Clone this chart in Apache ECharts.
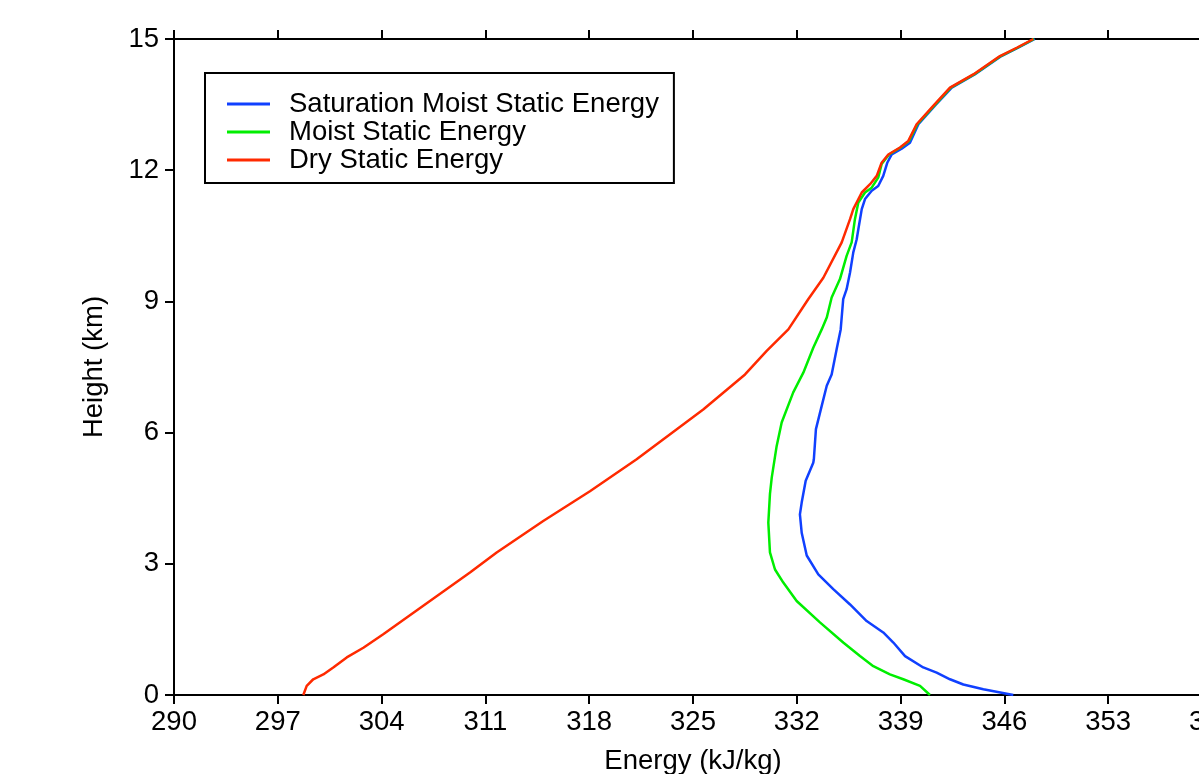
<!DOCTYPE html>
<html>
<head>
<meta charset="utf-8">
<script src="https://cdn.jsdelivr.net/npm/echarts@6/dist/echarts.min.js"></script>
<style>
html,body{margin:0;padding:0;background:#fff;}
#chart{width:1199px;height:774px;}
</style>
</head>
<body>
<div id="chart"></div>
<script>
// Tick labels
var xTicks = [290, 297, 304, 311, 318, 325, 332, 339, 346, 353, 360];
var yTicks = [0, 3, 6, 9, 12, 15];

// Series names
var seriesNames = ['Saturation Moist Static Energy', 'Moist Static Energy', 'Dry Static Energy'];

// Saturation Moist Static Energy (kJ/kg) vs height (km)
var smseEnergy = [346.60, 344.58, 343.23, 342.33, 341.43, 340.53, 339.30, 338.51, 337.83, 336.71, 335.59, 334.46, 333.45, 332.67, 332.33, 332.21, 332.33, 332.60, 333.11, 333.15, 333.29, 333.68, 334.02, 334.35, 334.69, 334.96, 335.13, 335.36, 335.59, 335.81, 336.04, 336.15, 336.38, 336.60, 337.05, 337.49, 337.83, 338.10, 338.40, 339.07, 339.63, 340.20, 341.30, 342.45, 344.00, 345.80, 346.93, 348.05];
var smseHeight = [0.00, 0.13, 0.24, 0.36, 0.51, 0.63, 0.89, 1.20, 1.43, 1.69, 2.07, 2.42, 2.76, 3.19, 3.71, 4.13, 4.40, 4.90, 5.31, 5.39, 6.08, 6.61, 7.07, 7.33, 7.91, 8.36, 9.05, 9.28, 9.66, 10.12, 10.42, 10.65, 11.11, 11.34, 11.53, 11.64, 11.87, 12.17, 12.36, 12.49, 12.63, 13.05, 13.47, 13.89, 14.19, 14.61, 14.80, 15.00];

// Moist Static Energy
var mseEnergy = [340.98, 340.31, 339.18, 338.28, 337.16, 336.26, 335.13, 333.56, 331.99, 331.09, 330.53, 330.19, 330.08, 330.19, 330.31, 330.64, 330.98, 331.76, 332.44, 333.11, 333.68, 334.02, 334.35, 334.91, 335.36, 335.70, 335.92, 336.15, 336.60, 337.05, 337.49, 337.72, 338.22, 339.00, 339.57, 340.13, 341.25, 342.38, 343.95, 345.75, 346.88, 348.00];
var mseHeight = [0.00, 0.21, 0.36, 0.47, 0.66, 0.89, 1.20, 1.66, 2.15, 2.57, 2.87, 3.26, 3.94, 4.60, 4.97, 5.69, 6.23, 6.92, 7.37, 7.94, 8.36, 8.63, 9.09, 9.51, 10.04, 10.35, 10.88, 11.26, 11.49, 11.60, 11.83, 12.14, 12.36, 12.52, 12.67, 13.05, 13.47, 13.89, 14.19, 14.61, 14.80, 15.00];

// Dry Static Energy
var dseEnergy = [298.72, 298.95, 299.39, 300.07, 300.74, 301.65, 302.77, 304.11, 306.81, 309.96, 311.76, 314.90, 318.05, 321.20, 325.69, 328.51, 329.97, 331.43, 332.77, 333.79, 335.03, 335.59, 335.81, 336.38, 336.94, 337.39, 337.72, 338.17, 338.96, 339.52, 340.08, 341.20, 342.33, 343.90, 345.70, 346.83, 347.95];
var dseHeight = [0.00, 0.21, 0.36, 0.47, 0.63, 0.86, 1.08, 1.39, 2.04, 2.80, 3.26, 3.98, 4.66, 5.39, 6.53, 7.33, 7.87, 8.36, 9.05, 9.54, 10.35, 10.88, 11.11, 11.49, 11.68, 11.87, 12.17, 12.36, 12.52, 12.67, 13.05, 13.47, 13.89, 14.19, 14.61, 14.80, 15.00];

function pairs(e, h) {
  var out = [];
  for (var i = 0; i < e.length; i++) out.push([e[i], h[i]]);
  return out;
}

var FONT = '"Liberation Sans", Arial, Helvetica, sans-serif';
var FS = 27.5;
var colors = ['#1040ff', '#00ee00', '#ff2a00'];

var chart = echarts.init(document.getElementById('chart'), null, {renderer: 'canvas'});

var axisLineStyle = {color: '#000', width: 2};

chart.setOption({
  animation: false,
  backgroundColor: '#fff',
  grid: {left: 174, top: 39, width: 1038, height: 656, containLabel: false, outerBoundsMode: 'none'},
  legend: {
    orient: 'vertical',
    left: 205,
    top: 73,
    padding: [17, 15, 9, 22],
    borderColor: '#000',
    borderWidth: 2,
    borderRadius: 0,
    itemWidth: 43,
    itemHeight: 3,
    itemGap: 0,
    icon: 'rect',
    textStyle: {fontFamily: FONT, fontSize: FS, color: '#000', lineHeight: 28, padding: [0, 0, 0, 14]},
    data: seriesNames
  },
  xAxis: [{
    type: 'value',
    min: xTicks[0],
    max: xTicks[xTicks.length - 1],
    position: 'bottom',
    name: 'Energy (kJ/kg)',
    nameLocation: 'middle',
    nameGap: 52,
    nameTextStyle: {fontFamily: FONT, fontSize: FS, color: '#000'},
    axisLine: {show: true, onZero: false, lineStyle: axisLineStyle},
    axisTick: {show: true, inside: false, length: 9, lineStyle: axisLineStyle, customValues: xTicks},
    axisLabel: {show: true, margin: 13, fontFamily: FONT, fontSize: FS, color: '#000', customValues: xTicks, hideOverlap: false, showMinLabel: true, showMaxLabel: true},
    splitLine: {show: false}
  }, {
    type: 'value',
    min: xTicks[0],
    max: xTicks[xTicks.length - 1],
    position: 'top',
    axisLine: {show: true, onZero: false, lineStyle: axisLineStyle},
    axisTick: {show: true, inside: false, length: 9, lineStyle: axisLineStyle, customValues: xTicks},
    axisLabel: {show: false},
    splitLine: {show: false}
  }],
  yAxis: [{
    type: 'value',
    min: 0,
    max: 15,
    interval: 3,
    position: 'left',
    name: 'Height (km)',
    nameLocation: 'middle',
    nameGap: 66,
    nameRotate: 90,
    nameTextStyle: {fontFamily: FONT, fontSize: FS, color: '#000'},
    axisLine: {show: true, onZero: false, lineStyle: axisLineStyle},
    axisTick: {show: true, inside: false, length: 9, lineStyle: axisLineStyle},
    axisLabel: {show: true, margin: 15, fontFamily: FONT, fontSize: FS, color: '#000', showMinLabel: true, showMaxLabel: true},
    splitLine: {show: false}
  }],
  series: [{
    name: seriesNames[0],
    type: 'line',
    data: pairs(smseEnergy, smseHeight),
    showSymbol: false,
    symbol: 'none',
    lineStyle: {color: colors[0], width: 2.5},
    itemStyle: {color: colors[0]},
    z: 2
  }, {
    name: seriesNames[1],
    type: 'line',
    data: pairs(mseEnergy, mseHeight),
    showSymbol: false,
    symbol: 'none',
    lineStyle: {color: colors[1], width: 2.5},
    itemStyle: {color: colors[1]},
    z: 3
  }, {
    name: seriesNames[2],
    type: 'line',
    data: pairs(dseEnergy, dseHeight),
    showSymbol: false,
    symbol: 'none',
    lineStyle: {color: colors[2], width: 2.5},
    itemStyle: {color: colors[2]},
    z: 4
  }]
});
</script>
</body>
</html>
